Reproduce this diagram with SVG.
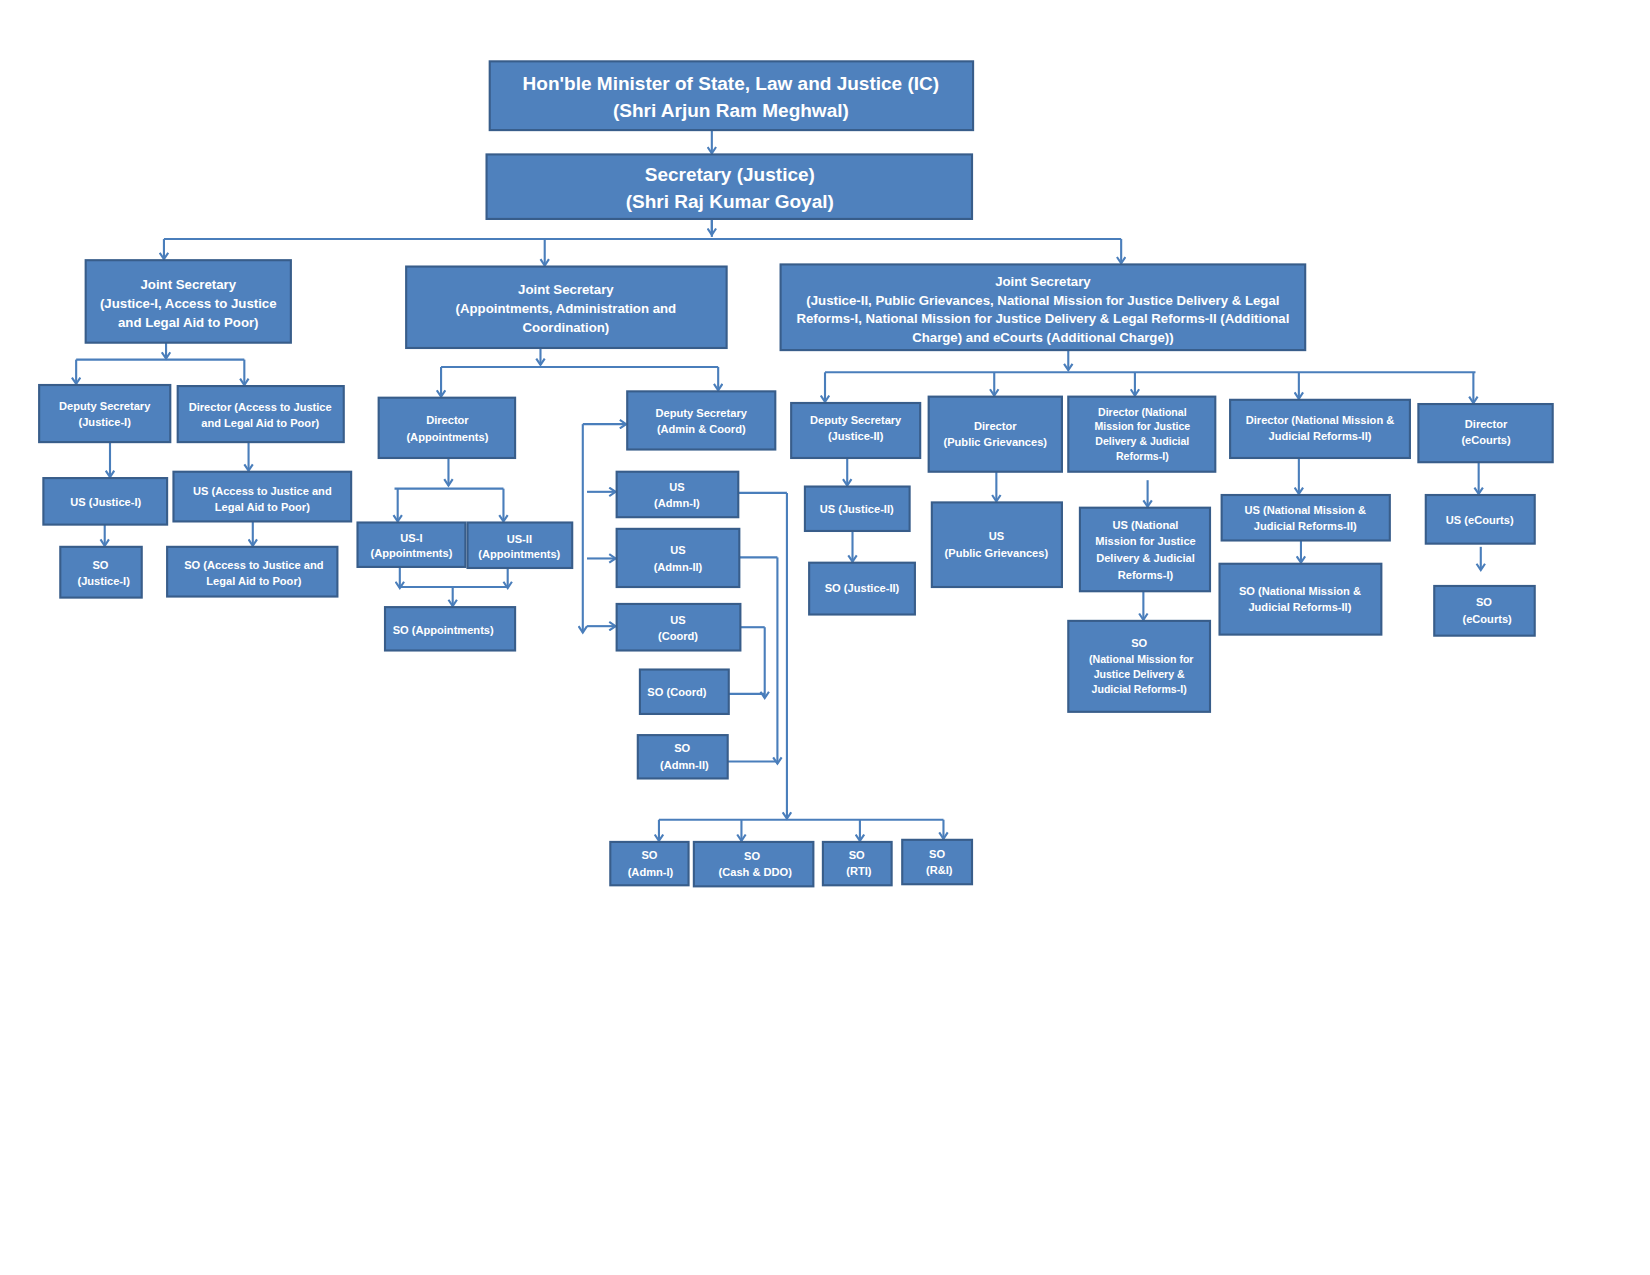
<svg xmlns="http://www.w3.org/2000/svg" width="1650" height="1275" viewBox="0 0 1650 1275">
<defs>
<marker id="ah" markerWidth="10" markerHeight="10" refX="7" refY="5" orient="auto" markerUnits="userSpaceOnUse">
<path d="M1,1 L7,5 L1,9" fill="none" stroke="#4a7ebb" stroke-width="2"/>
</marker>
</defs>
<style>
rect{fill:#4f81bd;stroke:#385d8a;stroke-width:2}
text{fill:#fff;font-family:"Liberation Sans",Arial,sans-serif;font-weight:bold;text-anchor:middle;font-size:10.5px}
.big{font-size:18px}
.mid{font-size:12.5px}
#conn path{fill:none;stroke:#4a7ebb;stroke-width:2}
#conn .a{marker-end:url(#ah)}
</style>
<rect x="0" y="0" width="1650" height="1275" style="fill:#fff;stroke:none"/>
<g transform="scale(1.0577)">
<g id="conn">
<path class="a" d="M673,123 V145"/>
<path d="M673,207 V224"/><path d="M673,207 V222" class="a"/>
<path d="M155,226 H1060"/>
<path class="a" d="M155,226 V245"/><path class="a" d="M515,226 V251"/><path class="a" d="M1060,226 V249"/>
<path class="a" d="M157,324 V339"/>
<path d="M72,340 H231"/>
<path class="a" d="M72,340 V363"/><path class="a" d="M231,340 V364"/>
<path class="a" d="M104,418 V451"/><path class="a" d="M99,496 V516"/>
<path class="a" d="M235,418 V445"/><path class="a" d="M239,493 V516"/>
<path class="a" d="M511,329 V345"/>
<path d="M417,347 H679"/>
<path class="a" d="M417,347 V375"/><path class="a" d="M679,347 V369"/>
<path class="a" d="M424,433 V459"/>
<path d="M373,462 H476"/>
<path class="a" d="M376,462 V493"/><path class="a" d="M476,462 V493"/>
<path class="a" d="M378,536 V556"/><path class="a" d="M480,537 V556"/>
<path d="M378,555 H480"/>
<path class="a" d="M428,555 V573"/>
<path class="a" d="M551,401 V598"/>
<path class="a" d="M551,401 H592"/><path class="a" d="M555,465 H582"/><path class="a" d="M555,528 H582"/><path class="a" d="M555,592 H582"/>
<path d="M700,593 H723"/><path class="a" d="M723,593 V660"/><path d="M689,656 H723"/>
<path d="M699,527 H735"/><path class="a" d="M735,527 V722"/><path d="M688,720 H735"/>
<path d="M698,466 H744"/><path class="a" d="M744,466 V774"/>
<path d="M623,775 H892"/>
<path class="a" d="M623,775 V795"/><path class="a" d="M701,775 V795"/><path class="a" d="M813,775 V795"/><path class="a" d="M892,775 V793"/>
<path class="a" d="M1010,331 V350"/>
<path d="M780,352 H1395"/>
<path class="a" d="M780,352 V380"/><path class="a" d="M940,352 V374"/><path class="a" d="M1073,352 V374"/><path class="a" d="M1228,352 V377"/><path class="a" d="M1393,352 V381"/>
<path class="a" d="M801,433 V459"/><path class="a" d="M806,502 V531"/>
<path class="a" d="M942,446 V474"/>
<path class="a" d="M1085,454 V479"/><path class="a" d="M1081,559 V586"/>
<path class="a" d="M1228,433 V467"/><path class="a" d="M1230,511 V532"/>
<path class="a" d="M1398,437 V467"/><path class="a" d="M1400,517 V539"/>
</g>
<g id="minister"><rect x="463" y="58" width="457" height="65"/><text class="big" x="691" y="85">Hon'ble Minister of State, Law and Justice (IC)</text><text class="big" x="691" y="111">(Shri Arjun Ram Meghwal)</text></g>
<g id="secretary"><rect x="460" y="146" width="459" height="61"/><text class="big" x="690" y="171">Secretary (Justice)</text><text class="big" x="690" y="197">(Shri Raj Kumar Goyal)</text></g>
<g id="js1"><rect x="81" y="246" width="194" height="78"/><text class="mid" x="178" y="273">Joint Secretary</text><text class="mid" x="178" y="291">(Justice-I, Access to Justice</text><text class="mid" x="178" y="309">and Legal Aid to Poor)</text></g>
<g id="js2"><rect x="384" y="252" width="303" height="77"/><text class="mid" x="535" y="278">Joint Secretary</text><text class="mid" x="535" y="296">(Appointments, Administration and</text><text class="mid" x="535" y="314">Coordination)</text></g>
<g id="js3"><rect x="738" y="250" width="496" height="81"/><text class="mid" x="986" y="270">Joint Secretary</text><text class="mid" x="986" y="288">(Justice-II, Public Grievances,  National Mission for Justice Delivery &amp; Legal</text><text class="mid" x="986" y="305">Reforms-I, National Mission for Justice Delivery &amp; Legal Reforms-II (Additional</text><text class="mid" x="986" y="323">Charge) and eCourts (Additional Charge))</text></g>
<g id="ds-j1"><rect x="37" y="364" width="124" height="54"/><text x="99" y="388">Deputy Secretary</text><text x="99" y="403">(Justice-I)</text></g>
<g id="dir-a2j"><rect x="168" y="365" width="157" height="53"/><text x="246" y="389">Director (Access to Justice</text><text x="246" y="404">and Legal Aid to Poor)</text></g>
<g id="us-j1"><rect x="41" y="452" width="117" height="44"/><text x="100" y="478">US (Justice-I)</text></g>
<g id="so-j1"><rect x="57" y="517" width="77" height="48"/><text x="95" y="538">SO</text><text x="98" y="553">(Justice-I)</text></g>
<g id="us-a2j"><rect x="164" y="446" width="168" height="47"/><text x="248" y="468">US (Access to Justice and</text><text x="248" y="483">Legal Aid to Poor)</text></g>
<g id="so-a2j"><rect x="158" y="517" width="161" height="47"/><text x="240" y="538">SO  (Access to Justice and</text><text x="240" y="553">Legal Aid to Poor)</text></g>
<g id="dir-app"><rect x="358" y="376" width="129" height="57"/><text x="423" y="401">Director</text><text x="423" y="417">(Appointments)</text></g>
<g id="us1-app"><rect x="338" y="494" width="102" height="42"/><text x="389" y="512">US-I</text><text x="389" y="527">(Appointments)</text></g>
<g id="us2-app"><rect x="442" y="494" width="99" height="43"/><text x="491" y="513">US-II</text><text x="491" y="528">(Appointments)</text></g>
<g id="so-app"><rect x="364" y="574" width="123" height="41"/><text x="419" y="599">SO (Appointments)</text></g>
<g id="ds-admin"><rect x="593" y="370" width="140" height="55"/><text x="663" y="394">Deputy  Secretary</text><text x="663" y="409">(Admin &amp; Coord)</text></g>
<g id="us-admn1"><rect x="583" y="446" width="115" height="43"/><text x="640" y="464">US</text><text x="640" y="479">(Admn-I)</text></g>
<g id="us-admn2"><rect x="583" y="500" width="116" height="55"/><text x="641" y="524">US</text><text x="641" y="540">(Admn-II)</text></g>
<g id="us-coord"><rect x="583" y="571" width="117" height="44"/><text x="641" y="590">US</text><text x="641" y="605">(Coord)</text></g>
<g id="so-coord"><rect x="605" y="633" width="84" height="42"/><text x="640" y="658">SO (Coord)</text></g>
<g id="so-admn2"><rect x="603" y="695" width="85" height="41"/><text x="645" y="711">SO</text><text x="647" y="727">(Admn-II)</text></g>
<g id="so-admn1"><rect x="577" y="796" width="74" height="41"/><text x="614" y="812">SO</text><text x="615" y="828">(Admn-I)</text></g>
<g id="so-cash"><rect x="656" y="796" width="113" height="42"/><text x="711" y="813">SO</text><text x="714" y="828">(Cash &amp; DDO)</text></g>
<g id="so-rti"><rect x="778" y="796" width="65" height="41"/><text x="810" y="812">SO</text><text x="812" y="827">(RTI)</text></g>
<g id="so-ri"><rect x="853" y="794" width="66" height="42"/><text x="886" y="811">SO</text><text x="888" y="826">(R&amp;I)</text></g>
<g id="ds-j2"><rect x="748" y="381" width="122" height="52"/><text x="809" y="401">Deputy  Secretary</text><text x="809" y="416">(Justice-II)</text></g>
<g id="us-j2"><rect x="761" y="460" width="99" height="42"/><text x="810" y="485">US (Justice-II)</text></g>
<g id="so-j2"><rect x="765" y="532" width="100" height="49"/><text x="815" y="560">SO (Justice-II)</text></g>
<g id="dir-pg"><rect x="878" y="375" width="126" height="71"/><text x="941" y="407">Director</text><text x="941" y="422">(Public Grievances)</text></g>
<g id="us-pg"><rect x="881" y="475" width="123" height="80"/><text x="942" y="511">US</text><text x="942" y="527">(Public Grievances)</text></g>
<g id="dir-nm1"><rect x="1010" y="375" width="139" height="71"/><text x="1080" y="393" style="font-size:10px">Director (National</text><text x="1080" y="407" style="font-size:10px">Mission for Justice</text><text x="1080" y="421" style="font-size:10px">Delivery &amp; Judicial</text><text x="1080" y="435" style="font-size:10px">Reforms-I)</text></g>
<g id="us-nm1"><rect x="1021" y="480" width="123" height="79"/><text x="1083" y="500">US (National</text><text x="1083" y="515">Mission for Justice</text><text x="1083" y="531">Delivery &amp; Judicial</text><text x="1083" y="547">Reforms-I)</text></g>
<g id="so-nm1"><rect x="1010" y="587" width="134" height="86"/><text x="1077" y="612">SO</text><text x="1079" y="627" style="font-size:10px">(National Mission for</text><text x="1077" y="641" style="font-size:10px">Justice Delivery &amp;</text><text x="1077" y="655" style="font-size:10px">Judicial Reforms-I)</text></g>
<g id="dir-nm2"><rect x="1163" y="378" width="170" height="55"/><text x="1248" y="401">Director (National Mission &amp;</text><text x="1248" y="416">Judicial Reforms-II)</text></g>
<g id="us-nm2"><rect x="1155" y="468" width="159" height="43"/><text x="1234" y="486">US (National Mission &amp;</text><text x="1234" y="501">Judicial Reforms-II)</text></g>
<g id="so-nm2"><rect x="1153" y="533" width="153" height="67"/><text x="1229" y="563">SO (National Mission &amp;</text><text x="1229" y="578">Judicial Reforms-II)</text></g>
<g id="dir-ec"><rect x="1341" y="382" width="127" height="55"/><text x="1405" y="405">Director</text><text x="1405" y="420">(eCourts)</text></g>
<g id="us-ec"><rect x="1348" y="468" width="103" height="46"/><text x="1399" y="495">US (eCourts)</text></g>
<g id="so-ec"><rect x="1356" y="554" width="95" height="47"/><text x="1403" y="573">SO</text><text x="1406" y="589">(eCourts)</text></g>
</g>
</svg>
